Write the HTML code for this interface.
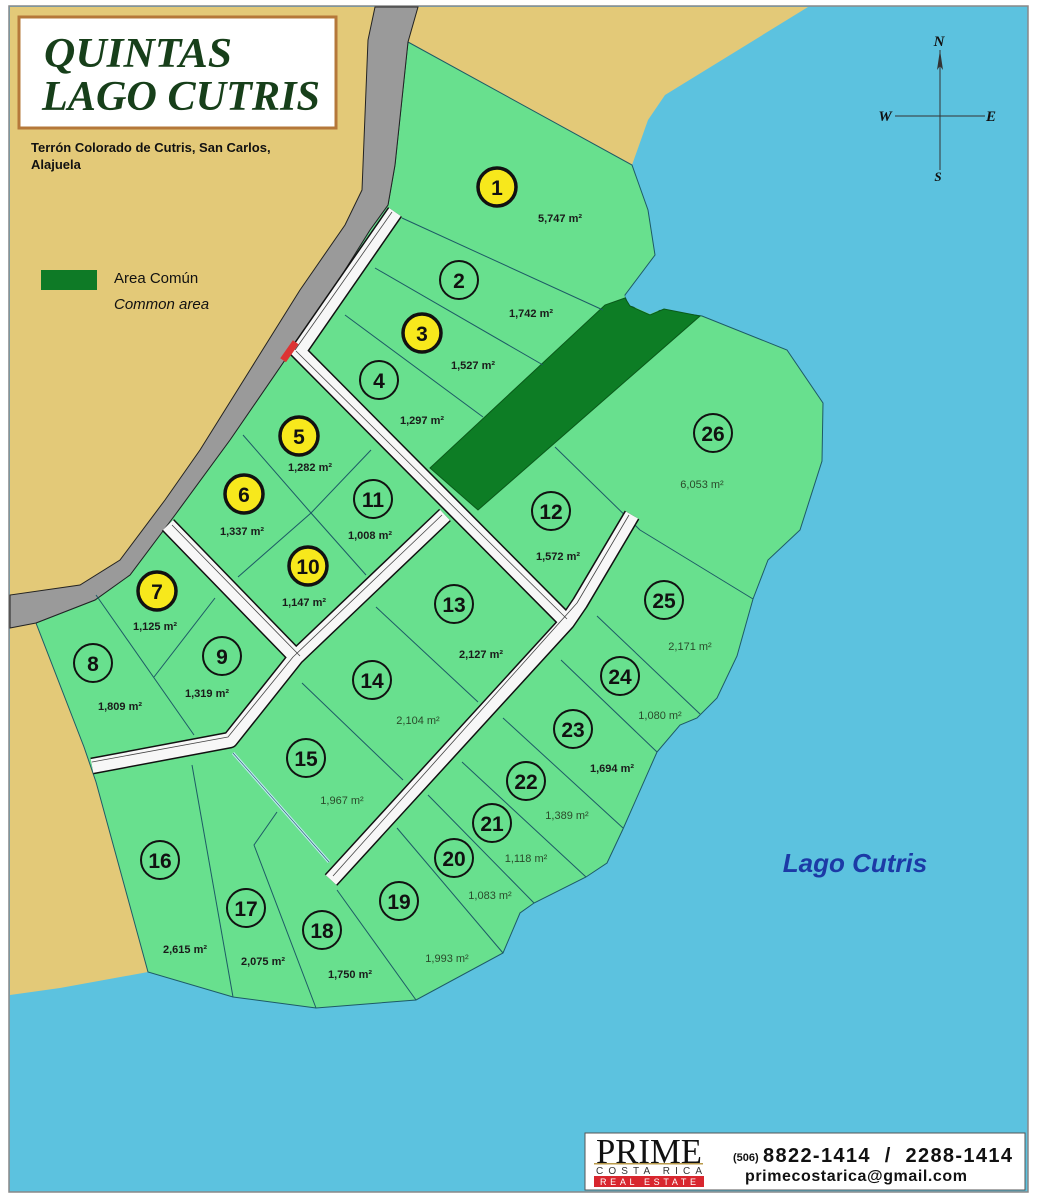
<!DOCTYPE html>
<html><head><meta charset="utf-8"><style>
html,body{margin:0;padding:0;background:#fff}
svg{display:block}
.n{font-family:"Liberation Sans",sans-serif;font-weight:bold;font-size:21px;text-anchor:middle;fill:#111}
.a{font-family:"Liberation Sans",sans-serif;font-weight:bold;font-size:11px;text-anchor:middle;fill:#1a1a1a}
.an{font-family:"Liberation Sans",sans-serif;font-size:11px;text-anchor:middle;fill:#2a4a2a}
.lot{fill:none;stroke:#1d5a66;stroke-width:1}
</style></head><body>
<svg width="1037" height="1200" viewBox="0 0 1037 1200" xmlns="http://www.w3.org/2000/svg">
<rect x="0" y="0" width="1037" height="1200" fill="#fff"/>
<rect x="9" y="6" width="1019" height="1186" fill="#5cc2df" stroke="#888" stroke-width="1.5"/>
<polygon fill="#e3c978" points="10,7 808,7 665,95 648,120 632,165 300,500 148,972 60,988 10,995"/>
<polygon fill="#68e08e" stroke="#1d5a66" stroke-width="1" points="408,42 632,165 648,210 655,255 625,295 628,306 702,316 787,350 823,403 822,461 800,530 768,560 753,599 737,656 717,698 697,718 680,725 657,752 623,829 607,863 586,877 534,903 520,913 503,953 416,1000 316,1008 233,997 148,972 96,782 84,747 36,623 95,600 130,575 175,515 230,440 285,360 320,310 370,230 388,205 395,165"/>
<polygon fill="#0d7d25" stroke="#0a5a1a" stroke-width="1" points="430,468 605,305 625,298 630,306 650,315 664,309 700,316 478,510"/>
<polygon fill="#5cc2df" points="625,296 640,280 700,300 702,315 664,308 650,314 630,305"/>
<polygon fill="#9a9a9a" stroke="#222" stroke-width="1" points="375,7 368,40 362,190 345,225 300,290 250,370 200,450 165,500 120,560 80,585 10,595 10,628 36,623 95,600 130,575 175,515 230,440 285,360 320,310 370,230 388,205 395,165 408,42 418,7"/>
<g class="lot">
<line x1="402" y1="218" x2="603" y2="310"/>
<line x1="375" y1="268" x2="543" y2="365"/>
<line x1="345" y1="315" x2="483" y2="417"/>
<line x1="555" y1="447" x2="640" y2="530"/>
<line x1="640" y1="530" x2="753" y2="599"/>
<line x1="597" y1="616" x2="700" y2="714"/>
<line x1="561" y1="660" x2="657" y2="752"/>
<line x1="503" y1="718" x2="623" y2="828"/>
<line x1="462" y1="762" x2="586" y2="877"/>
<line x1="428" y1="795" x2="534" y2="903"/>
<line x1="397" y1="828" x2="503" y2="953"/>
<line x1="337" y1="890" x2="416" y2="1000"/>
<polyline points="277,812 254,845 316,1008"/>
<line x1="192" y1="765" x2="233" y2="997"/>
<line x1="376" y1="607" x2="478" y2="702"/>
<line x1="302" y1="683" x2="403" y2="780"/>
<line x1="96" y1="595" x2="194" y2="735"/>
<line x1="215" y1="598" x2="154" y2="677"/>
<polyline points="243,435 311,513 366,575"/>
<polyline points="371,450 311,513 238,577"/>
</g>
<line x1="233" y1="753" x2="329" y2="862" stroke="#bfe8f0" stroke-width="3"/>
<line x1="233" y1="753" x2="329" y2="862" stroke="#1d5a66" stroke-width="0.6"/>
<g fill="none" stroke-linejoin="round" stroke-linecap="butt">
<g stroke="#111" stroke-width="17">
<polyline points="395,212 298,352"/>
<polyline points="293,346 567,622"/>
<polyline points="632,515 580,603 567,622 331,880"/>
<polyline points="445,515 296,657 230,740 92,766"/>
<polyline points="168,525 298,659"/>
</g>
<g stroke="#f7f7f7" stroke-width="14">
<polyline points="395,212 298,352"/>
<polyline points="293,346 567,622"/>
<polyline points="632,515 580,603 567,622 331,880"/>
<polyline points="445,515 296,657 230,740 92,766"/>
<polyline points="168,525 298,659"/>
</g>
<g stroke="#444" stroke-width="0.8">
<polyline points="392,212 295,350"/>
<polyline points="296,351 567,619"/>
<polyline points="629,515 577,603 333,876"/>
<polyline points="442,515 293,657 228,737 92,762"/>
<polyline points="172,525 300,656"/>
</g>
</g>
<rect x="286" y="340" width="7" height="22" fill="#d33" transform="rotate(35 289 351)"/>
<g stroke="#111" stroke-width="2" fill="none">
<circle cx="459" cy="280" r="19"/><circle cx="379" cy="380" r="19"/><circle cx="93" cy="663" r="19"/>
<circle cx="222" cy="656" r="19"/><circle cx="373" cy="499" r="19"/><circle cx="551" cy="511" r="19"/>
<circle cx="454" cy="604" r="19"/><circle cx="372" cy="680" r="19"/><circle cx="306" cy="758" r="19"/>
<circle cx="160" cy="860" r="19"/><circle cx="246" cy="908" r="19"/><circle cx="322" cy="930" r="19"/>
<circle cx="399" cy="901" r="19"/><circle cx="454" cy="858" r="19"/><circle cx="492" cy="823" r="19"/>
<circle cx="526" cy="781" r="19"/><circle cx="573" cy="729" r="19"/><circle cx="620" cy="676" r="19"/>
<circle cx="664" cy="600" r="19"/><circle cx="713" cy="433" r="19"/>
</g>
<g stroke="#111" stroke-width="3.5" fill="#f7e81c">
<circle cx="497" cy="187" r="19"/><circle cx="422" cy="333" r="19"/><circle cx="299" cy="436" r="19"/>
<circle cx="244" cy="494" r="19"/><circle cx="157" cy="591" r="19"/><circle cx="308" cy="566" r="19"/>
</g>
<g class="n">
<text x="497" y="195">1</text><text x="459" y="288">2</text><text x="422" y="341">3</text><text x="379" y="388">4</text>
<text x="299" y="444">5</text><text x="244" y="502">6</text><text x="157" y="599">7</text><text x="93" y="671">8</text>
<text x="222" y="664">9</text><text x="308" y="574">10</text><text x="373" y="507">11</text><text x="551" y="519">12</text>
<text x="454" y="612">13</text><text x="372" y="688">14</text><text x="306" y="766">15</text><text x="160" y="868">16</text>
<text x="246" y="916">17</text><text x="322" y="938">18</text><text x="399" y="909">19</text><text x="454" y="866">20</text>
<text x="492" y="831">21</text><text x="526" y="789">22</text><text x="573" y="737">23</text><text x="620" y="684">24</text>
<text x="664" y="608">25</text><text x="713" y="441">26</text>
</g>
<g class="a">
<text x="560" y="222">5,747 m²</text><text x="531" y="317">1,742 m²</text><text x="473" y="369">1,527 m²</text>
<text x="422" y="424">1,297 m²</text><text x="310" y="471">1,282 m²</text><text x="242" y="535">1,337 m²</text>
<text x="155" y="630">1,125 m²</text><text x="120" y="710">1,809 m²</text><text x="207" y="697">1,319 m²</text>
<text x="304" y="606">1,147 m²</text><text x="370" y="539">1,008 m²</text><text x="558" y="560">1,572 m²</text>
<text x="481" y="658">2,127 m²</text><text x="185" y="953">2,615 m²</text><text x="263" y="965">2,075 m²</text>
<text x="350" y="978">1,750 m²</text><text x="612" y="772">1,694 m²</text>
</g>
<g class="an">
<text x="418" y="724">2,104 m²</text><text x="342" y="804">1,967 m²</text><text x="447" y="962">1,993 m²</text>
<text x="490" y="899">1,083 m²</text><text x="526" y="862">1,118 m²</text><text x="567" y="819">1,389 m²</text>
<text x="660" y="719">1,080 m²</text><text x="690" y="650">2,171 m²</text><text x="702" y="488">6,053 m²</text>
</g>
<rect x="19" y="17" width="317" height="111" fill="#fff" stroke="#b5783a" stroke-width="3"/>
<g font-family="Liberation Serif,serif" font-style="italic" font-weight="bold" font-size="42" fill="#173f1a">
<text x="44" y="67" textLength="188" lengthAdjust="spacingAndGlyphs">QUINTAS</text>
<text x="42" y="110" textLength="278" lengthAdjust="spacingAndGlyphs">LAGO CUTRIS</text>
</g>
<g font-family="Liberation Sans,sans-serif" font-weight="bold" font-size="13" fill="#111">
<text x="31" y="152">Terrón Colorado de Cutris, San Carlos,</text><text x="31" y="169">Alajuela</text>
</g>
<rect x="41" y="270" width="56" height="20" fill="#0e7a26"/>
<g font-family="Liberation Sans,sans-serif" font-size="15" fill="#111">
<text x="114" y="283">Area Común</text><text x="114" y="309" font-style="italic">Common area</text>
</g>
<g stroke="#333" stroke-width="1"><line x1="940" y1="50" x2="940" y2="170"/><line x1="895" y1="116" x2="985" y2="116"/></g>
<polygon points="940,50 943,70 940,66 937,70" fill="#333"/>
<g font-family="Liberation Serif,serif" font-style="italic" font-weight="bold" font-size="15" fill="#111" text-anchor="middle">
<text x="939" y="46">N</text><text x="885" y="121">W</text><text x="991" y="121">E</text><text x="938" y="181" font-size="13">S</text>
</g>
<text x="855" y="872" font-family="Liberation Sans,sans-serif" font-style="italic" font-weight="bold" font-size="26" fill="#1c3aa6" text-anchor="middle">Lago Cutris</text>
<rect x="585" y="1133" width="440" height="57" fill="#fff" stroke="#555" stroke-width="1"/>
<text x="596" y="1163" font-family="Liberation Serif,serif" font-size="35" fill="#111" textLength="106" lengthAdjust="spacingAndGlyphs">PRIME</text>
<rect x="594" y="1163" width="109" height="1.5" fill="#b99a4a"/>
<text x="596" y="1174" font-family="Liberation Sans,sans-serif" font-size="10" fill="#333" textLength="106">COSTA RICA</text>
<rect x="594" y="1176" width="110" height="11" fill="#d8262e"/>
<text x="600" y="1185" font-family="Liberation Sans,sans-serif" font-size="9" fill="#fff" textLength="96">REAL ESTATE</text>
<text x="733" y="1161" font-family="Liberation Sans,sans-serif" font-weight="bold" font-size="11" fill="#111">(506)</text>
<text x="763" y="1162" font-family="Liberation Sans,sans-serif" font-weight="bold" font-size="20" fill="#111" textLength="249" xml:space="preserve">8822-1414  /  2288-1414</text>
<text x="745" y="1181" font-family="Liberation Sans,sans-serif" font-weight="bold" font-size="16" fill="#111" textLength="222">primecostarica@gmail.com</text>
</svg>
</body></html>
